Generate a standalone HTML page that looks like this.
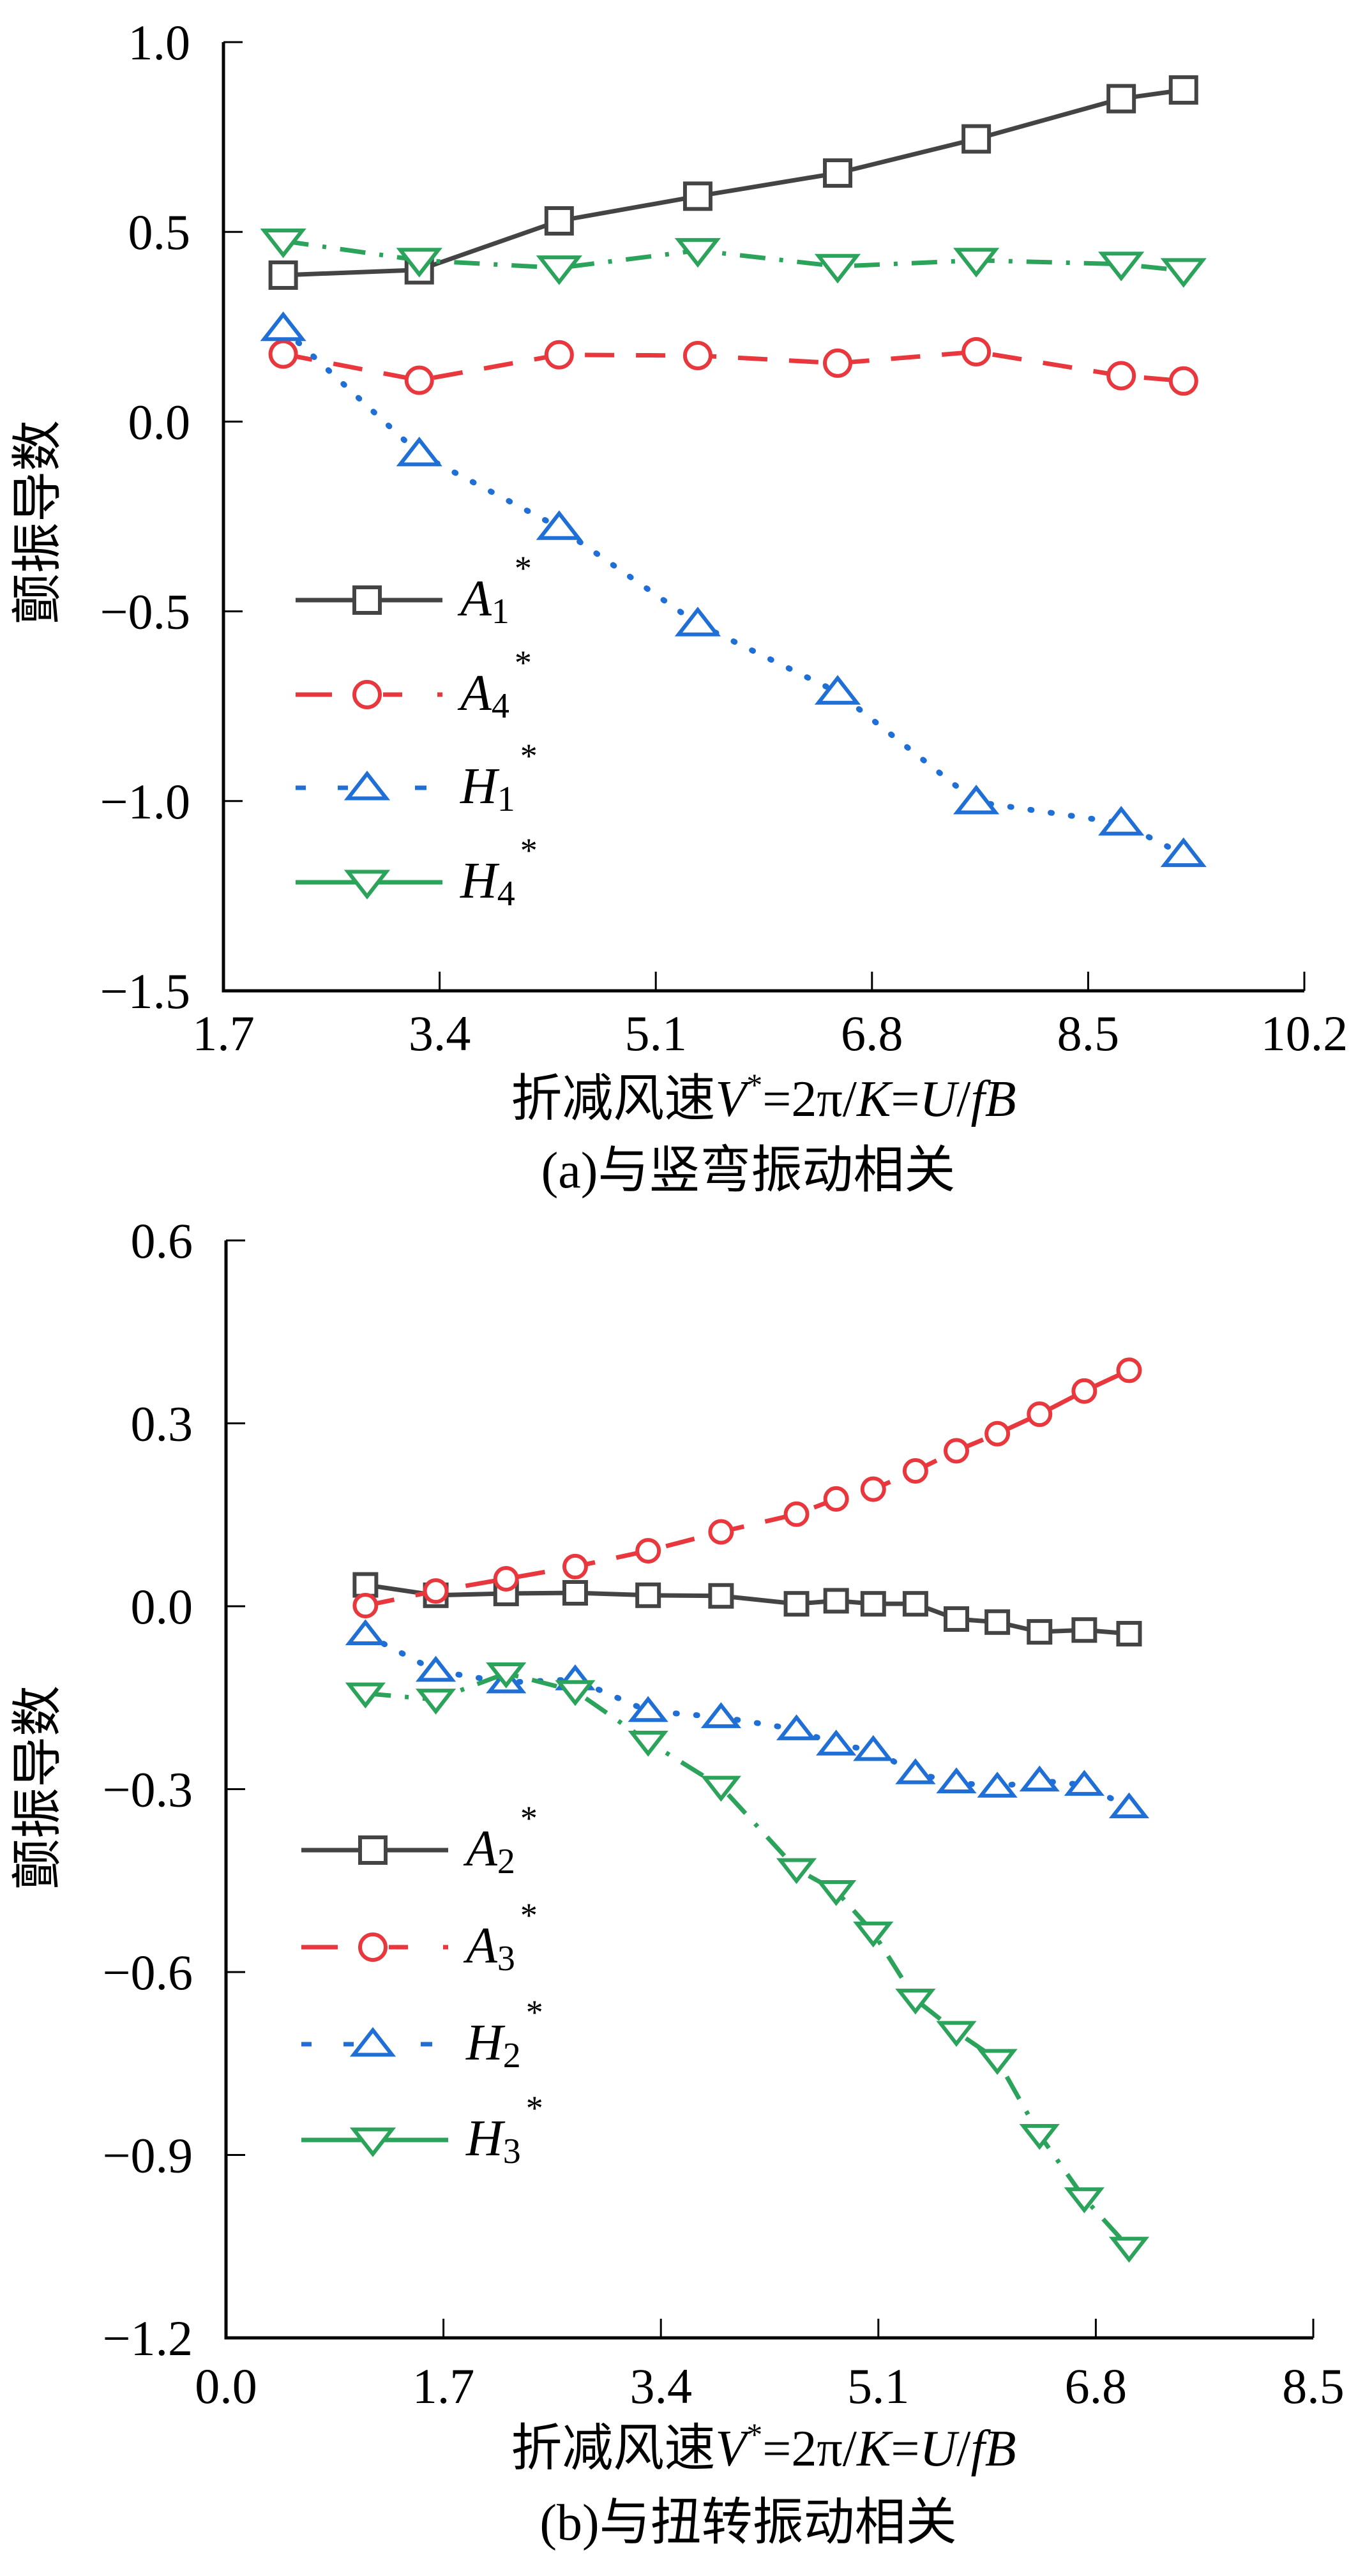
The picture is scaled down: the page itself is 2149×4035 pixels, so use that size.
<!DOCTYPE html>
<html><head><meta charset="utf-8">
<style>
html,body{margin:0;padding:0;background:#fff;}
svg{display:block;}
</style></head>
<body>
<svg id="fig" width="2149" height="4035" viewBox="0 0 2149 4035" xmlns="http://www.w3.org/2000/svg"></svg>
<script>
// ---------- Chart (a) data ----------
const xA = [2.17, 3.24, 4.34, 5.43, 6.53, 7.62, 8.76, 9.25];
const seriesA1 = [0.386, 0.40, 0.529, 0.594, 0.655, 0.745, 0.851, 0.874];
const seriesA4 = [0.178, 0.109, 0.176, 0.174, 0.154, 0.184, 0.121, 0.107];
const seriesH1 = [0.245, -0.085, -0.279, -0.533, -0.713, -1.002, -1.058, -1.141];
const seriesH4 = [0.476, 0.425, 0.405, 0.451, 0.409, 0.425, 0.415, 0.398];
const xTicksA = ["1.7", "3.4", "5.1", "6.8", "8.5", "10.2"];
const yTicksA = ["1.0", "0.5", "0.0", "\u22120.5", "\u22121.0", "\u22121.5"];
// ---------- Chart (b) data ----------
const xB = [1.09, 1.64, 2.19, 2.73, 3.30, 3.87, 4.46, 4.77, 5.06, 5.39, 5.71, 6.03, 6.36, 6.71, 7.06];
const seriesA2 = [0.035, 0.018, 0.021, 0.022, 0.018, 0.017, 0.004, 0.009, 0.004, 0.004, -0.021, -0.026, -0.042, -0.039, -0.045];
const seriesA3 = [0.001, 0.025, 0.045, 0.065, 0.091, 0.122, 0.151, 0.176, 0.192, 0.222, 0.255, 0.283, 0.315, 0.353, 0.387];
const seriesH2 = [-0.046, -0.106, -0.125, -0.120, -0.172, -0.182, -0.202, -0.227, -0.236, -0.274, -0.289, -0.296, -0.286, -0.293, -0.330];
const seriesH3 = [-0.143, -0.153, -0.110, -0.139, -0.222, -0.296, -0.431, -0.467, -0.535, -0.645, -0.698, -0.744, -0.867, -0.971, -1.052];
const xTicksB = ["0.0", "1.7", "3.4", "5.1", "6.8", "8.5"];
const yTicksB = ["0.6", "0.3", "0.0", "\u22120.3", "\u22120.6", "\u22120.9", "\u22121.2"];

const NS = "http://www.w3.org/2000/svg";
const SERIF = '"Liberation Serif", "Noto Serif CJK SC", serif';
const CJK = '"Liberation Serif", "Noto Sans CJK SC", sans-serif';
const svg = document.getElementById("fig");
function mk(tag, attrs, parent) {
  const e = document.createElementNS(NS, tag);
  for (const k in attrs) e.setAttribute(k, attrs[k]);
  (parent || svg).appendChild(e);
  return e;
}
const COL = {gray:"#444444", red:"#e8383d", blue:"#1f6fd6", green:"#2ba35a"};
const DASH = {solid:"none", dash:"46 34", dot:"2 30", dashdot:"40 22 6 22"};

function marker(g, type, cx, cy, s, color) {
  let e;
  if (type === "square") {
    e = mk("rect", {x:cx-s/2, y:cy-s/2, width:s, height:s, fill:"#fff", stroke:color, "stroke-width":6}, g);
  } else if (type === "circle") {
    e = mk("circle", {cx:cx, cy:cy, r:s/2, fill:"#fff", stroke:color, "stroke-width":6}, g);
  } else if (type === "up") {
    const w = s*0.75, h = s*0.55;
    e = mk("polygon", {points:`${cx},${cy-h} ${cx-w},${cy+h*0.75} ${cx+w},${cy+h*0.75}`, fill:"#fff", stroke:color, "stroke-width":6}, g);
  } else {
    const w = s*0.75, h = s*0.55;
    e = mk("polygon", {points:`${cx},${cy+h} ${cx-w},${cy-h*0.75} ${cx+w},${cy-h*0.75}`, fill:"#fff", stroke:color, "stroke-width":6}, g);
  }
  return e;
}

function chart(cfg) {
  const g = mk("g", {});
  
  
  const sx = v => cfg.x0 + (v - cfg.xmin) / (cfg.xmax - cfg.xmin) * (cfg.x1 - cfg.x0);
  const sy = v => cfg.y1 - (v - cfg.ymin) / (cfg.ymax - cfg.ymin) * (cfg.y1 - cfg.y0);

  const ax = mk("path", {d:`M${cfg.x0},${cfg.y0} V${cfg.y1} H${cfg.x1}`, fill:"none", stroke:"#000", "stroke-width":5}, g);
  
  
  cfg.yTicks.forEach((lab, i) => {
    const y = cfg.y0 + i * (cfg.y1 - cfg.y0) / (cfg.yTicks.length - 1);
    mk("line", {x1:cfg.x0, x2:cfg.x0+30, y1:y, y2:y, stroke:"#000", "stroke-width":3}, g);
    const t = mk("text", {x:cfg.x0-52, y:y+27, "text-anchor":"end", "font-size":78, "font-family":SERIF}, g);
    t.textContent = lab;
    
    
  });
  cfg.xTicks.forEach((lab, i) => {
    const x = cfg.x0 + i * (cfg.x1 - cfg.x0) / (cfg.xTicks.length - 1);
    mk("line", {x1:x, x2:x, y1:cfg.y1, y2:cfg.y1-30, stroke:"#000", "stroke-width":3}, g);
    const t = mk("text", {x:x, y:cfg.xTickY, "text-anchor":"middle", "font-size":78, "font-family":SERIF}, g);
    t.textContent = lab;
    
    
  });
  const yt = mk("text", {x:0, y:0, "text-anchor":"middle", "font-size":80, "font-family":CJK, transform:`translate(86,${cfg.yTitleY}) rotate(-90)`}, g);
  yt.textContent = "颤振导数";
  
  
  const xt = mk("text", {x:1196, y:cfg.xTitleY, "text-anchor":"middle", "font-size":80, "font-family":CJK}, g);
  
  
  xt.innerHTML = '折减风速<tspan font-family="Liberation Serif, serif" font-style="italic">V</tspan><tspan font-family="Liberation Serif, serif" dy="-32" font-size="50">*</tspan><tspan font-family="Liberation Serif, serif" dy="32">=2π/</tspan><tspan font-family="Liberation Serif, serif" font-style="italic">K</tspan><tspan font-family="Liberation Serif, serif">=</tspan><tspan font-family="Liberation Serif, serif" font-style="italic">U</tspan><tspan font-family="Liberation Serif, serif">/</tspan><tspan font-family="Liberation Serif, serif" font-style="italic">fB</tspan>';
  const cap = mk("text", {x:1172, y:cfg.capY, "text-anchor":"middle", "font-size":80, "font-family":CJK}, g);
  cap.textContent = cfg.caption;
  
  

  cfg.series.forEach(s => {
    const sg = mk("g", {}, g);
    
    
    const pts = s.vals.map((v, i) => `${sx(cfg.xs[i])},${sy(v)}`).join(" ");
    const pl = mk("polyline", {points:pts, fill:"none", stroke:s.color, "stroke-width": s.key.startsWith("H") && s.dash===DASH.dot ? 9 : 7, "stroke-dasharray":s.dash, "stroke-linecap": s.dash===DASH.dot ? "round" : "butt"}, sg);
    
    
    s.vals.forEach((v, i) => {
      const m = marker(sg, s.marker, sx(cfg.xs[i]), sy(v), cfg.msize, s.color);
      
      
    });
  });

  const lg = mk("g", {}, g);
  
  
  cfg.series.forEach((s, i) => {
    const y = cfg.legY[i];
    const eg = mk("g", {}, lg);
    
    
    mk("line", {x1:cfg.legX0, x2:cfg.legX1, y1:y, y2:y, stroke:s.color, "stroke-width":7, "stroke-dasharray":s.legDash}, eg);
    marker(eg, s.marker, (cfg.legX0+cfg.legX1)/2 - 3, y, 40, s.color);
    const t = mk("text", {x:cfg.legX1+28, y:y+24, "font-size":80, "font-family":SERIF}, eg);
    t.innerHTML = `<tspan font-style="italic">${s.sym}</tspan><tspan font-size="56" dy="12">${s.sub}</tspan><tspan font-size="54" dy="-68" dx="8">*</tspan>`;
  });
}

chart({
  name:"chart-a", xs:xA, x0:350, x1:2043, y0:66, y1:1552, xmin:1.7, xmax:10.2, ymin:-1.5, ymax:1.0,
  xTicks:xTicksA, yTicks:yTicksA, xTickY:1645, xTitleY:1748, capY:1860, yTitleY:818,
  caption:"(a)与竖弯振动相关", msize:40,
  legX0:463, legX1:693, legY:[940, 1088, 1234, 1382],
  series:[
    {key:"A1", vals:seriesA1, color:COL.gray, dash:DASH.solid, legDash:"none", marker:"square", sym:"A", sub:"1"},
    {key:"A4", vals:seriesA4, color:COL.red, dash:DASH.dash, legDash:"57 80 30 55 8 100", marker:"circle", sym:"A", sub:"4"},
    {key:"H1", vals:seriesH1, color:COL.blue, dash:DASH.dot, legDash:"16 50 16 105 18 100", marker:"up", sym:"H", sub:"1"},
    {key:"H4", vals:seriesH4, color:COL.green, dash:DASH.dashdot, legDash:"none", marker:"down", sym:"H", sub:"4"}
  ]
});
chart({
  name:"chart-b", xs:xB, x0:354, x1:2057, y0:1943, y1:3662, xmin:0, xmax:8.5, ymin:-1.2, ymax:0.6,
  xTicks:xTicksB, yTicks:yTicksB, xTickY:3764, xTitleY:3862, capY:3978, yTitleY:2800,
  caption:"(b)与扭转振动相关", msize:34,
  legX0:472, legX1:702, legY:[2898, 3050, 3202, 3352],
  series:[
    {key:"A2", vals:seriesA2, color:COL.gray, dash:DASH.solid, legDash:"none", marker:"square", sym:"A", sub:"2"},
    {key:"A3", vals:seriesA3, color:COL.red, dash:DASH.dash, legDash:"57 80 30 55 8 100", marker:"circle", sym:"A", sub:"3"},
    {key:"H2", vals:seriesH2, color:COL.blue, dash:DASH.dot, legDash:"16 50 16 105 18 100", marker:"up", sym:"H", sub:"2"},
    {key:"H3", vals:seriesH3, color:COL.green, dash:DASH.dashdot, legDash:"none", marker:"down", sym:"H", sub:"3"}
  ]
});
</script>
</body></html>
